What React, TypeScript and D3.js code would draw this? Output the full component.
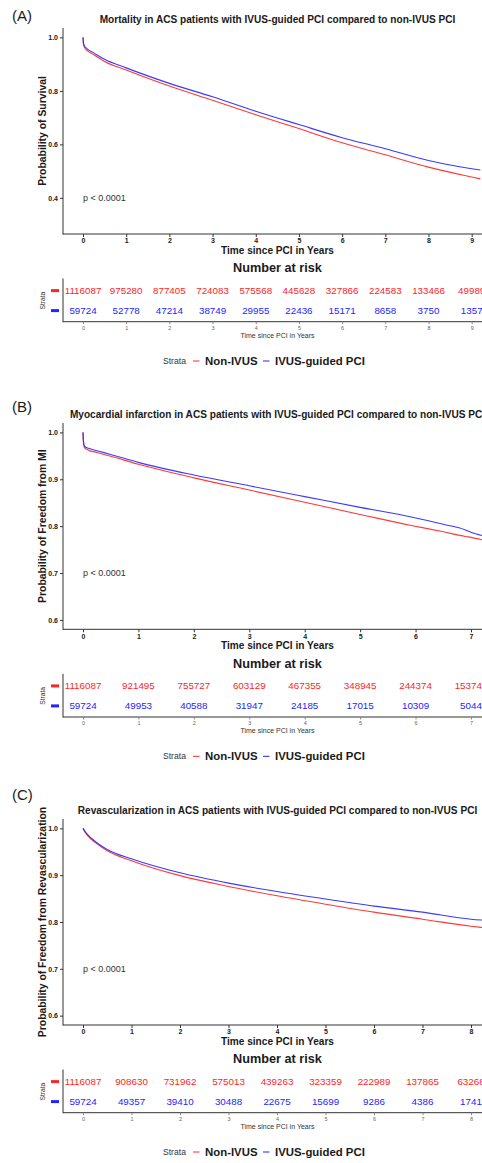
import * as d3 from "d3";
import { useEffect, useRef } from "react";

const FONT = "'Liberation Sans', Arial, sans-serif";
const RED = "#ff2424";
const BLUE = "#2424ff";
const INK = "#1a1a1a";

// Panel A - mortality
const timesA = [0, 0.01, 0.03, 0.1, 0.25, 0.5, 1, 1.5, 2, 3, 4, 5, 6, 7, 8, 9, 9.2];
const nonIvusA = [1.0, 0.975, 0.964, 0.95, 0.935, 0.91, 0.878, 0.847, 0.818, 0.765, 0.711, 0.659, 0.606, 0.561, 0.515, 0.478, 0.471];
const ivusA = [1.0, 0.98, 0.97, 0.957, 0.942, 0.918, 0.886, 0.856, 0.828, 0.778, 0.724, 0.674, 0.625, 0.584, 0.54, 0.509, 0.504];
const yearsA = [0, 1, 2, 3, 4, 5, 6, 7, 8, 9];
const riskNonIvusA = [1116087, 975280, 877405, 724083, 575568, 445628, 327866, 224583, 133466, 49989];
const riskIvusA = [59724, 52778, 47214, 38749, 29955, 22436, 15171, 8658, 3750, 1357];
const yTicksA = [0.4, 0.6, 0.8, 1.0];

// Panel B - myocardial infarction
const timesB = [0, 0.01, 0.03, 0.1, 0.25, 0.5, 1, 2, 3, 4, 5, 5.9, 6.5, 6.9, 7, 7.2];
const nonIvusB = [1.0, 0.975, 0.967, 0.962, 0.957, 0.949, 0.932, 0.903, 0.877, 0.851, 0.825, 0.802, 0.788, 0.778, 0.776, 0.771];
const ivusB = [1.0, 0.98, 0.97, 0.966, 0.961, 0.953, 0.936, 0.909, 0.886, 0.863, 0.84, 0.82, 0.804, 0.792, 0.787, 0.78];
const yearsB = [0, 1, 2, 3, 4, 5, 6, 7];
const riskNonIvusB = [1116087, 921495, 755727, 603129, 467355, 348945, 244374, 153741];
const riskIvusB = [59724, 49953, 40588, 31947, 24185, 17015, 10309, 5044];
const yTicksB = [0.6, 0.7, 0.8, 0.9, 1.0];

// Panel C - revascularization
const timesC = [0, 0.05, 0.1, 0.25, 0.5, 1, 2, 3, 4, 5, 6, 7, 8, 8.25];
const nonIvusC = [1.0, 0.991, 0.984, 0.97, 0.952, 0.931, 0.899, 0.876, 0.856, 0.838, 0.821, 0.806, 0.791, 0.788];
const ivusC = [1.0, 0.992, 0.986, 0.972, 0.955, 0.935, 0.905, 0.883, 0.865, 0.849, 0.834, 0.821, 0.806, 0.804];
const yearsC = [0, 1, 2, 3, 4, 5, 6, 7, 8];
const riskNonIvusC = [1116087, 908630, 731962, 575013, 439263, 323359, 222989, 137865, 63268];
const riskIvusC = [59724, 49357, 39410, 30488, 22675, 15699, 9286, 4386, 1741];
const yTicksC = [0.6, 0.7, 0.8, 0.9, 1.0];

const strata = ["Non-IVUS", "IVUS-guided PCI"];

const panels = [
  {
    tag: "(A)", tagY: 15.5,
    title: "Mortality in ACS patients with IVUS-guided PCI compared to non-IVUS PCI",
    yTitle: "Probability of Survival",
    top: 28, bottom: 234, yDomain: [0.265, 1.035], xRight: 471.7, pY: 0.4,
    times: timesA, series: [nonIvusA, ivusA], years: yearsA,
    risk: [riskNonIvusA, riskIvusA], yTicks: yTicksA,
  },
  {
    tag: "(B)", tagY: 407,
    title: "Myocardial infarction in ACS patients with IVUS-guided PCI compared to non-IVUS PCI",
    yTitle: "Probability of Freedom from MI",
    top: 423, bottom: 629.3, yDomain: [0.58, 1.02], xRight: 471, pY: 0.7,
    times: timesB, series: [nonIvusB, ivusB], years: yearsB,
    risk: [riskNonIvusB, riskIvusB], yTicks: yTicksB,
  },
  {
    tag: "(C)", tagY: 795,
    title: "Revascularization in ACS patients with IVUS-guided PCI compared to non-IVUS PCI",
    yTitle: "Probability of Freedom from Revascularization",
    top: 819, bottom: 1025, yDomain: [0.58, 1.02], xRight: 471, pY: 0.7,
    times: timesC, series: [nonIvusC, ivusC], years: yearsC,
    risk: [riskNonIvusC, riskIvusC], yTicks: yTicksC,
  },
];

function drawPanel(svg, p) {
  const colors = [RED, BLUE];
  const axisX0 = 63;
  const W = 482;
  const cx = 277.5;
  const lastYear = p.years[p.years.length - 1];

  const x = d3.scaleLinear().domain([0, lastYear]).range([83, p.xRight]);
  const y = d3.scaleLinear().domain(p.yDomain).range([p.bottom, p.top]);

  const g = svg.append("g").style("font-family", FONT);

  g.append("text").attr("x", 12).attr("y", p.tagY).attr("dy", "0.35em")
    .style("font-size", "15px").attr("fill", INK).text(p.tag);

  g.append("text").attr("x", cx).attr("y", p.top - 9).attr("dy", "0.35em")
    .attr("text-anchor", "middle").style("font-size", "10.1px").style("font-weight", "bold")
    .attr("fill", INK).text(p.title);

  // axis lines
  g.append("line").attr("x1", axisX0).attr("x2", axisX0).attr("y1", p.top).attr("y2", p.bottom + 0.5)
    .attr("stroke", "#333").attr("stroke-width", 1);
  g.append("line").attr("x1", axisX0).attr("x2", W + 20).attr("y1", p.bottom).attr("y2", p.bottom)
    .attr("stroke", "#333").attr("stroke-width", 1);

  // y ticks
  const yAxis = g.append("g").attr("transform", `translate(${axisX0},0)`)
    .call(d3.axisLeft(y).tickValues(p.yTicks).tickFormat(d3.format(".1f")).tickSize(3).tickSizeOuter(0).tickPadding(2));
  yAxis.select(".domain").remove();
  yAxis.selectAll("line").attr("stroke", "#333");
  yAxis.selectAll("text").style("font-size", "7px").style("font-weight", "bold")
    .style("font-family", FONT).attr("fill", INK);

  // x ticks
  const xAxis = g.append("g").attr("transform", `translate(0,${p.bottom})`)
    .call(d3.axisBottom(x).tickValues(p.years).tickFormat(d3.format("d")).tickSize(3).tickSizeOuter(0).tickPadding(1.5));
  xAxis.select(".domain").remove();
  xAxis.selectAll("line").attr("stroke", "#333");
  xAxis.selectAll("text").style("font-size", "7px").style("font-weight", "bold")
    .style("font-family", FONT).attr("fill", INK);

  g.append("text").attr("x", cx).attr("y", p.bottom + 16.3).attr("dy", "0.35em")
    .attr("text-anchor", "middle").style("font-size", "10.1px").style("font-weight", "bold")
    .attr("fill", INK).text("Time since PCI in Years");

  g.append("text")
    .attr("transform", `translate(42.5,${(p.top + p.bottom) / 2}) rotate(-90)`)
    .attr("dy", "0.35em").attr("text-anchor", "middle")
    .style("font-size", "10.4px").style("font-weight", "bold").attr("fill", INK).text(p.yTitle);

  // curves
  const line = d3.line().x(d => x(d[0])).y(d => y(d[1])).curve(d3.curveMonotoneX);
  p.series.forEach((vals, i) => {
    g.append("path").datum(p.times.map((t, k) => [t, vals[k]]))
      .attr("d", line).attr("fill", "none").attr("stroke", colors[i]).attr("stroke-width", 1.1)
      .attr("stroke-opacity", 0.9);
  });

  g.append("text").attr("x", x(0)).attr("y", y(p.pY)).attr("dy", "0.35em")
    .style("font-size", "9px").attr("fill", "#333").text("p < 0.0001");

  // number at risk table
  const t0 = p.bottom;
  g.append("text").attr("x", cx).attr("y", t0 + 34).attr("dy", "0.35em")
    .attr("text-anchor", "middle").style("font-size", "12.7px").style("font-weight", "bold")
    .attr("fill", INK).text("Number at risk");

  const tTop = t0 + 44.5, tBot = t0 + 87.7;
  const rowY = [t0 + 56.6, t0 + 76.6];
  g.append("line").attr("x1", axisX0).attr("x2", axisX0).attr("y1", tTop).attr("y2", tBot + 0.5)
    .attr("stroke", "#333").attr("stroke-width", 1);
  g.append("line").attr("x1", axisX0).attr("x2", W + 20).attr("y1", tBot).attr("y2", tBot)
    .attr("stroke", "#333").attr("stroke-width", 1);

  p.risk.forEach((vals, i) => {
    g.append("rect").attr("x", 51).attr("y", rowY[i] - 1.5).attr("width", 8).attr("height", 3)
      .attr("fill", colors[i]);
    g.selectAll(null).data(vals).join("text")
      .attr("x", (d, k) => x(p.years[k])).attr("y", rowY[i]).attr("dy", "0.35em")
      .attr("text-anchor", "middle").style("font-size", "9.8px").attr("fill", colors[i])
      .text(d => d);
  });

  g.append("text").attr("transform", `translate(43,${(rowY[0] + rowY[1]) / 2}) rotate(-90)`)
    .attr("dy", "0.35em").attr("text-anchor", "middle").style("font-size", "6.7px")
    .attr("fill", "#333").text("Strata");

  const tAxis = g.append("g").attr("transform", `translate(0,${tBot})`)
    .call(d3.axisBottom(x).tickValues(p.years).tickFormat(d3.format("d")).tickSize(2.5).tickSizeOuter(0).tickPadding(1.5));
  tAxis.select(".domain").remove();
  tAxis.selectAll("line").attr("stroke", "#888");
  tAxis.selectAll("text").style("font-size", "5.5px").style("font-family", FONT).attr("fill", "#666");

  g.append("text").attr("x", cx).attr("y", t0 + 101.2).attr("dy", "0.35em")
    .attr("text-anchor", "middle").style("font-size", "7px").attr("fill", "#333")
    .text("Time since PCI in Years");

  // legend
  const ly = t0 + 127;
  g.append("text").attr("x", 163).attr("y", ly).attr("dy", "0.35em")
    .style("font-size", "8.6px").attr("fill", "#333").text("Strata");
  const lx = [193, 263];
  const tx = [205, 275];
  strata.forEach((s, i) => {
    g.append("line").attr("x1", lx[i]).attr("x2", lx[i] + 6.5).attr("y1", ly).attr("y2", ly)
      .attr("stroke", colors[i]).attr("stroke-width", 1);
    g.append("text").attr("x", tx[i]).attr("y", ly).attr("dy", "0.35em")
      .style("font-size", "11.4px").style("font-weight", "bold").attr("fill", INK).text(s);
  });
}

export default function App() {
  const ref = useRef(null);

  useEffect(() => {
    const svg = d3.select(ref.current);
    svg.selectAll("*").remove();
    panels.forEach(p => drawPanel(svg, p));
  }, []);

  return (
    <div style={{ position: "absolute", left: 0, top: 0, width: 482, height: 1163, overflow: "hidden", background: "#fff" }}>
      <svg ref={ref} width={482} height={1163} />
    </div>
  );
}
